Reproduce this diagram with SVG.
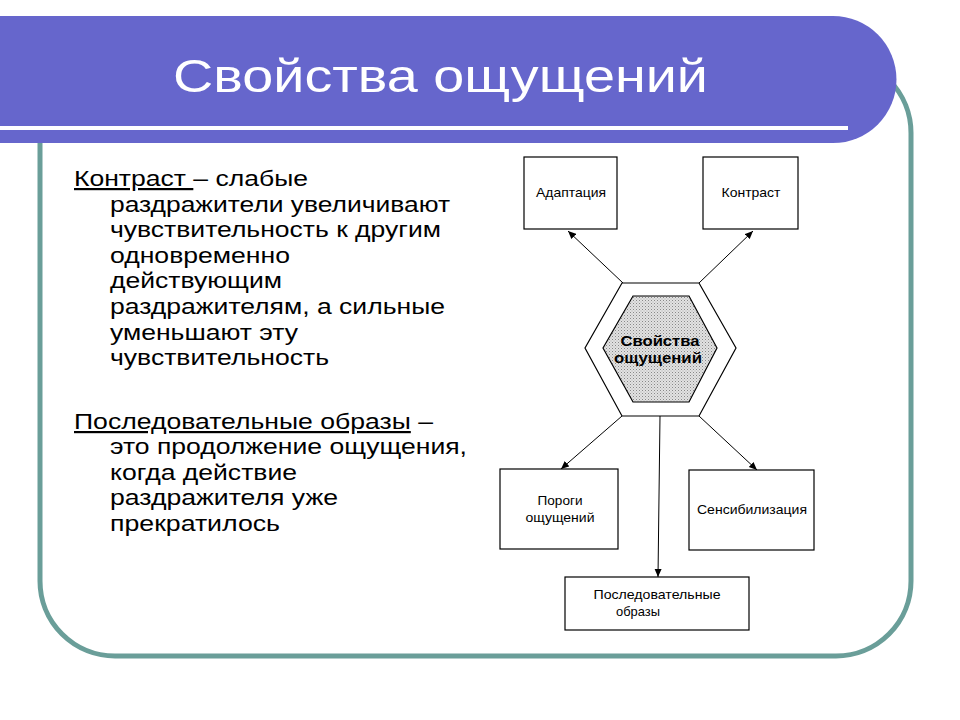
<svg xmlns="http://www.w3.org/2000/svg" width="960" height="720" viewBox="0 0 960 720">
<defs>
<style>
.body{font-family:"Liberation Sans",Arial,sans-serif;font-size:22px;fill:#000}
.lbl{font-family:"Liberation Sans",Arial,sans-serif;font-size:13px;fill:#000;text-anchor:middle}
.box{fill:#fff;stroke:#000;stroke-width:1.2}
.conn{stroke:#000;stroke-width:1;fill:none;marker-end:url(#arr)}
</style>
<marker id="arr" markerUnits="userSpaceOnUse" markerWidth="10" markerHeight="8" refX="8" refY="4" orient="auto">
<path d="M0,0.5 L8,4 L0,7.5 Z" fill="#000"/>
</marker>
<pattern id="dots" width="3" height="3" patternUnits="userSpaceOnUse">
<rect width="3" height="3" fill="#e2e2e2"/>
<rect x="0" y="0" width="1" height="1" fill="#888"/>
<rect x="1.5" y="1.5" width="1" height="1" fill="#aaa"/>
</pattern>
</defs>
<rect width="960" height="720" fill="#fff"/>
<g id="frame">
<rect x="40" y="58" width="871" height="598" rx="75" ry="75" fill="none" stroke="#6a9e99" stroke-width="5"/>
</g>
<g id="banner">
<path d="M0,16 H833 A63,63 0 0 1 833,143 H0 Z" fill="#6666cc"/>
<rect x="0" y="126" width="848" height="4" fill="#fff"/>
<text x="173" y="92" font-family="Liberation Sans, Arial, sans-serif" font-size="46" fill="#fff" textLength="535" lengthAdjust="spacingAndGlyphs">Свойства ощущений</text>
</g>
<g id="body-text" class="body">
<text class="body" x="74" y="186" textLength="234" lengthAdjust="spacingAndGlyphs"><tspan text-decoration="underline">Контраст </tspan>– слабые</text>
<text class="body" x="110" y="212" textLength="340" lengthAdjust="spacingAndGlyphs">раздражители увеличивают</text>
<text class="body" x="110" y="237" textLength="331" lengthAdjust="spacingAndGlyphs">чувствительность к другим</text>
<text class="body" x="110" y="263" textLength="180" lengthAdjust="spacingAndGlyphs">одновременно</text>
<text class="body" x="110" y="288" textLength="172" lengthAdjust="spacingAndGlyphs">действующим</text>
<text class="body" x="110" y="314" textLength="335" lengthAdjust="spacingAndGlyphs">раздражителям, а сильные</text>
<text class="body" x="110" y="340" textLength="188" lengthAdjust="spacingAndGlyphs">уменьшают эту</text>
<text class="body" x="110" y="365" textLength="219" lengthAdjust="spacingAndGlyphs">чувствительность</text>
<text class="body" x="74" y="429" textLength="359" lengthAdjust="spacingAndGlyphs"><tspan text-decoration="underline">Последовательные образы</tspan> –</text>
<text class="body" x="110" y="454" textLength="357" lengthAdjust="spacingAndGlyphs">это продолжение ощущения,</text>
<text class="body" x="110" y="480" textLength="187" lengthAdjust="spacingAndGlyphs">когда действие</text>
<text class="body" x="110" y="505" textLength="228" lengthAdjust="spacingAndGlyphs">раздражителя уже</text>
<text class="body" x="110" y="531" textLength="170" lengthAdjust="spacingAndGlyphs">прекратилось</text>
</g>
<g id="connectors">
<line class="conn" x1="623" y1="283" x2="568" y2="231"/>
<line class="conn" x1="699" y1="283" x2="753" y2="231"/>
<line class="conn" x1="622" y1="416" x2="561" y2="469"/>
<line class="conn" x1="699" y1="416" x2="757" y2="470"/>
<line class="conn" x1="660" y1="416" x2="658" y2="577"/>
</g>
<g id="node-center">
<polygon points="622,283 699,283 736,348 699,416 622,416 585,348" fill="#fff" stroke="#000" stroke-width="1.2"/>
<polygon points="633,296 689,296 717,348 689,402 633,402 603,348" fill="url(#dots)" stroke="#000" stroke-width="1.2"/>
<text x="660" y="346" font-family="Liberation Sans, Arial, sans-serif" font-size="14" font-weight="bold" text-anchor="middle" textLength="79" lengthAdjust="spacingAndGlyphs">Свойства</text>
<text x="658" y="363" font-family="Liberation Sans, Arial, sans-serif" font-size="14" font-weight="bold" text-anchor="middle" textLength="88" lengthAdjust="spacingAndGlyphs">ощущений</text>
</g>
<g id="node-adaptation">
<rect class="box" x="524" y="157" width="93" height="72"/>
<text class="lbl" x="571" y="197" textLength="70" lengthAdjust="spacingAndGlyphs">Адаптация</text>
</g>
<g id="node-contrast">
<rect class="box" x="703" y="157" width="95" height="72"/>
<text class="lbl" x="751" y="197" textLength="59" lengthAdjust="spacingAndGlyphs">Контраст</text>
</g>
<g id="node-thresholds">
<rect class="box" x="500" y="469" width="118" height="80"/>
<text class="lbl" x="560" y="505" textLength="45" lengthAdjust="spacingAndGlyphs">Пороги</text>
<text class="lbl" x="560" y="522" textLength="69" lengthAdjust="spacingAndGlyphs">ощущений</text>
</g>
<g id="node-sensitization">
<rect class="box" x="689" y="470" width="125" height="80"/>
<text class="lbl" x="752" y="514" textLength="110" lengthAdjust="spacingAndGlyphs">Сенсибилизация</text>
</g>
<g id="node-afterimages">
<rect class="box" x="565" y="577" width="184" height="53"/>
<text class="lbl" x="657" y="599" textLength="127" lengthAdjust="spacingAndGlyphs">Последовательные</text>
<text class="lbl" x="638" y="616" textLength="44" lengthAdjust="spacingAndGlyphs">образы</text>
</g>
</svg>
